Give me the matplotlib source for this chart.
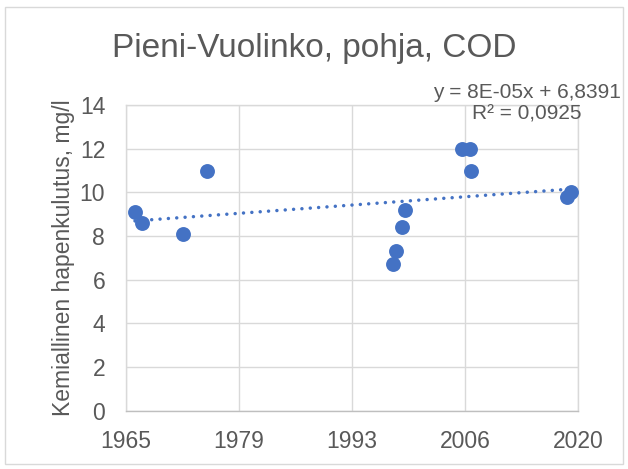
import numpy as np
import pandas as pd
import matplotlib
matplotlib.use("Agg")
import matplotlib.pyplot as plt
from matplotlib.patches import Rectangle

plt.rcParams['font.family'] = ['Liberation Sans', 'DejaVu Sans']

# ---- data ----
dates = ["1966-10-18", "1967-09-06", "1972-07-29", "1975-07-22",
         "1998-02-01", "1998-06-14", "1999-02-08", "1999-06-21",
         "2006-05-17", "2007-05-19", "2007-06-19", "2019-03-03", "2019-07-31"]
cod = [9.1, 8.6, 8.1, 11.0, 6.7, 7.3, 8.4, 9.2, 12.0, 12.0, 11.0, 9.8, 10.0]

x_ticks = [24000, 29000, 34000, 39000, 44000]   # excel day numbers
x_tick_labels = ["1965", "1979", "1993", "2006", "2020"]
y_ticks = [0, 2, 4, 6, 8, 10, 12, 14]

title = "Pieni-Vuolinko, pohja, COD"
ylabel = "Kemiallinen hapenkulutus, mg/l"
eq_text = "y = 8E-05x + 6,8391\nR² = 0,0925"

# excel serial days
x = (pd.to_datetime(dates) - pd.Timestamp("1899-12-30")).days.values.astype(float)
y = np.array(cod)

# linear trend
k, b = np.polyfit(x, y, 1)
xt = np.array([x.min(), x.max()])
yt = k * xt + b

blue = "#4472C4"
txt = "#595959"
grid = "#D9D9D9"

fig = plt.figure(figsize=(6.28, 4.69), dpi=100)
ax = fig.add_axes([126/628, 1-410.7/469, (578-126)/628, (410.7-105)/469])

ax.plot(xt, yt, linestyle=(0, (0.01, 2.4)), dash_capstyle='round', color=blue, linewidth=2.5, zorder=2)
ax.scatter(x, y, s=115, color=blue, zorder=3, linewidths=0)

ax.set_xlim(x_ticks[0], x_ticks[-1])
ax.set_ylim(0, 14)
ax.set_xticks(x_ticks)
ax.set_xticklabels(x_tick_labels)
ax.set_yticks(y_ticks)
ax.grid(True, color=grid, linewidth=1.0)
ax.set_axisbelow(True)
for s in ax.spines.values():
    s.set_color(grid)
    s.set_linewidth(1.0)
ax.spines['bottom'].set_color("#BFBFBF")
ax.tick_params(length=0, labelsize=16.5, colors=txt)
ax.tick_params(axis='x', pad=14)
ax.tick_params(axis='y', pad=15)

ax.set_ylabel(ylabel, fontsize=16.5, color=txt, labelpad=3)
fig.text(0.5, 1-49/469, title, ha='center', va='center', fontsize=24, color=txt)
fig.text(527/628, 1-103/469, eq_text, ha='center', va='center', fontsize=15,
         color=txt, linespacing=1.15)

# chart border
fig.patches.append(Rectangle((5/628, 5/469), 1-10/628, 1-12/469, transform=fig.transFigure,
                             fill=False, edgecolor=grid, linewidth=1.0))

fig.savefig("out.png", dpi=100)
